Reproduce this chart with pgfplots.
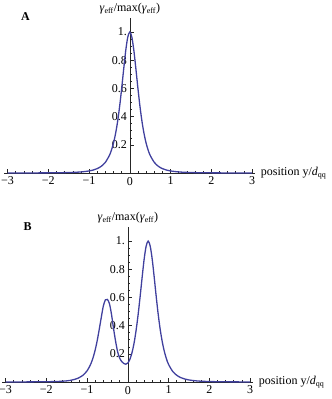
\documentclass[border=0pt]{standalone}
\usepackage{fontspec}
\setmainfont{Liberation Serif}
\usepackage{pgfplots}
\pgfplotsset{compat=1.18}
\definecolor{mmablue}{rgb}{0.25,0.25,0.62}

% Mathematica-like frame: axes through the origin, ticks pointing inwards
\pgfplotsset{
  mma/.style={
    scale only axis, width=251pt, height=155pt,
    xmin=-3.08, xmax=3.08, ymin=0, ymax=1.1,
    clip=false,
    axis lines=middle,
    axis line style={-, black!85, line width=0.5pt},
    tick align=inside,
    hide obscured x ticks=false,
    xtick={-3,...,3}, xticklabels={−3,−2,−1,0,1,2,3},
    ytick={0.2,0.4,0.6,0.8,1}, yticklabels={0.2,0.4,0.6,0.8,1.},
    minor x tick num=4, minor y tick num=3,
    major tick length=4pt, minor tick length=2.3pt,
    every tick/.style={black!85, line width=0.5pt},
    tick label style={font=\fontsize{12}{14}\selectfont},
    xticklabel style={yshift=-0.5pt},
    yticklabel style={xshift=0.5pt},
    xlabel={position y/\textit{d}\textsubscript{qq}},
    ylabel={\textit{γ}\textsubscript{eff}/max(\textit{γ}\textsubscript{eff})},
    every axis x label/.style={at={(rel axis cs:1,0)}, anchor=west, xshift=2pt,
      font=\fontsize{12}{14}\selectfont},
    every axis y label/.style={at={(rel axis cs:0.5,1)}, anchor=south, yshift=0pt,
      font=\fontsize{12}{14}\selectfont},
  },
  curve/.style={mmablue, line width=1.3pt, smooth, no markers},
}

\pgfplotstableread{
x y
-3.0 0.0002
-2.5 0.0005
-2.0 0.0011
-1.5 0.0033
-1.2 0.0075
-1.0 0.0145
-0.9 0.0209
-0.8 0.0311
-0.7 0.0477
-0.6 0.0759
-0.5 0.1252
-0.45 0.1627
-0.4 0.2126
-0.35 0.2785
-0.3 0.3640
-0.25 0.4714
-0.2 0.5989
-0.15 0.7376
-0.1 0.8685
-0.05 0.9644
0.0 1.0000
0.05 0.9644
0.1 0.8685
0.15 0.7376
0.2 0.5989
0.25 0.4714
0.3 0.3640
0.35 0.2785
0.4 0.2126
0.45 0.1627
0.5 0.1252
0.6 0.0759
0.7 0.0477
0.8 0.0311
0.9 0.0209
1.0 0.0145
1.2 0.0075
1.5 0.0033
2.0 0.0011
2.5 0.0005
3.0 0.0002
}\singlepeak

\pgfplotstableread{
x y
-3.0 0.0003
-2.5 0.0007
-2.0 0.0020
-1.7 0.0040
-1.5 0.0080
-1.4 0.0120
-1.3 0.0190
-1.2 0.0300
-1.1 0.0480
-1.05 0.0620
-1.0 0.0790
-0.95 0.1030
-0.9 0.1340
-0.85 0.1750
-0.8 0.2280
-0.75 0.2950
-0.7 0.3750
-0.65 0.4600
-0.6 0.5400
-0.55 0.5830
-0.5 0.5860
-0.45 0.5550
-0.4 0.4800
-0.35 0.3800
-0.3 0.2900
-0.25 0.2150
-0.2 0.1700
-0.15 0.1450
-0.1 0.1320
-0.05 0.1260
0.0 0.1350
0.05 0.1600
0.1 0.2050
0.15 0.2700
0.2 0.3600
0.25 0.4700
0.3 0.6000
0.35 0.7380
0.4 0.8690
0.45 0.9640
0.5 1.0000
0.55 0.9640
0.6 0.8690
0.65 0.7380
0.7 0.5990
0.75 0.4710
0.8 0.3640
0.85 0.2790
0.9 0.2130
0.95 0.1630
1.0 0.1250
1.1 0.0760
1.2 0.0480
1.3 0.0310
1.4 0.0210
1.5 0.0145
1.7 0.0075
2.0 0.0033
2.5 0.0011
3.0 0.0005
}\doublepeak

\begin{document}
\begin{tikzpicture}
\begin{axis}[mma, at={(0,0)}]
  \addplot[curve] table {\singlepeak};
  \node[font=\fontsize{12}{14}\selectfont\bfseries] at (axis cs:-2.56,1.11) {A};
\end{axis}
\begin{axis}[mma, at={(-2pt,-209pt)}]
  \addplot[curve] table {\doublepeak};
  \node[font=\fontsize{12}{14}\selectfont\bfseries] at (axis cs:-2.46,1.1) {B};
\end{axis}
\pgfresetboundingbox
\path[use as bounding box] (-4.3pt,173pt) rectangle (327.7pt,-226pt);
\end{tikzpicture}
\end{document}
